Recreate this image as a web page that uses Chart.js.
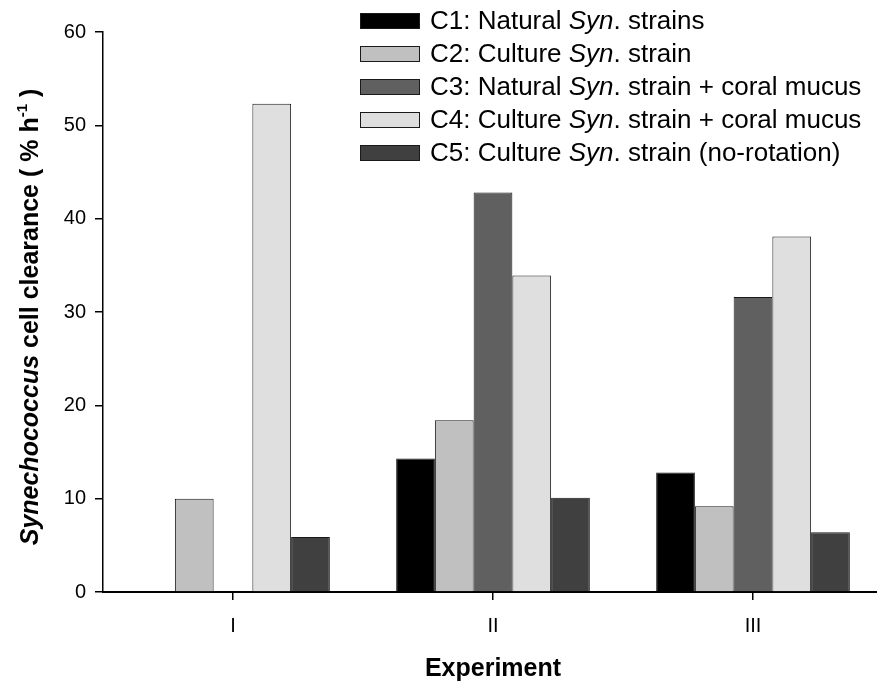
<!DOCTYPE html>
<html>
<head>
<meta charset="utf-8">
<script src="https://cdn.jsdelivr.net/npm/chart.js@4.4.1/dist/chart.umd.min.js"></script>
<style>
  html, body { margin: 0; padding: 0; background: #fff; overflow: hidden; }
  #wrap { width: 884px; height: 684px; }
</style>
</head>
<body>
<div id="wrap"><canvas id="clearance"></canvas></div>
<script>
// Synechococcus cell clearance (% per hour) for the three experiments
const experiments = ['I', 'II', 'III'];
const c1Natural = [null, 14.3, 12.8];
const c2Culture = [10.0, 18.4, 9.2];
const c3NaturalMucus = [null, 42.8, 31.6];
const c4CultureMucus = [52.3, 33.9, 38.1];
const c5NoRotation = [5.9, 10.1, 6.4];
const yTicks = [0, 10, 20, 30, 40, 50, 60];

// legend entries: [before, italic, after]
const legendParts = [
  ['C1: Natural ', 'Syn', '. strains'],
  ['C2: Culture ', 'Syn', '. strain'],
  ['C3: Natural ', 'Syn', '. strain + coral mucus'],
  ['C4: Culture ', 'Syn', '. strain + coral mucus'],
  ['C5: Culture ', 'Syn', '. strain (no-rotation)']
];

const FONT = "'Liberation Sans', Arial, sans-serif";
Chart.defaults.font.family = FONT;
Chart.defaults.color = '#000';

function barSet (label, data, color) {
  return {
    label: label,
    data: data,
    backgroundColor: color,
    borderColor: '#1a1a1a',
    borderWidth: 1,
    borderSkipped: 'bottom',
    barPercentage: 1.0,
    categoryPercentage: 0.745
  };
}

// draws runs of text with different fonts one after another
function drawRuns (ctx, runs, x, y) {
  runs.forEach(r => {
    ctx.font = r.font;
    ctx.fillText(r.text, x, y + (r.dy || 0));
    x += ctx.measureText(r.text).width;
  });
}
function runsWidth (ctx, runs) {
  let w = 0;
  runs.forEach(r => { ctx.font = r.font; w += ctx.measureText(r.text).width; });
  return w;
}

const legendPlugin = {
  id: 'richLegend',
  afterDraw (chart) {
    const ctx = chart.ctx;
    ctx.save();
    ctx.textBaseline = 'middle';
    chart.data.datasets.forEach((ds, i) => {
      const cy = 21 + i * 33;
      ctx.fillStyle = ds.backgroundColor;
      ctx.fillRect(360, cy - 8, 60, 16);
      ctx.strokeStyle = '#1a1a1a';
      ctx.lineWidth = 1;
      ctx.strokeRect(360.5, cy - 7.5, 59, 15);
      ctx.fillStyle = '#000';
      const p = legendParts[i];
      drawRuns(ctx, [
        { text: p[0], font: '26px ' + FONT },
        { text: p[1], font: 'italic 26px ' + FONT },
        { text: p[2], font: '26px ' + FONT }
      ], 430, cy + 1);
    });
    ctx.restore();
  }
};

const yTitlePlugin = {
  id: 'yTitle',
  afterDraw (chart) {
    const ctx = chart.ctx;
    const area = chart.chartArea;
    const runs = [
      { text: 'Synechococcus', font: 'italic bold 25px ' + FONT },
      { text: ' cell clearance ( % h', font: 'bold 25px ' + FONT },
      { text: '-1', font: 'bold 15px ' + FONT, dy: -8 },
      { text: ' )', font: 'bold 25px ' + FONT }
    ];
    ctx.save();
    ctx.translate(31, (area.top + area.bottom) / 2 + 5);
    ctx.rotate(-Math.PI / 2);
    ctx.textBaseline = 'middle';
    ctx.fillStyle = '#000';
    drawRuns(ctx, runs, -runsWidth(ctx, runs) / 2, 0);
    ctx.restore();
  }
};

new Chart(document.getElementById('clearance'), {
  type: 'bar',
  data: {
    labels: experiments,
    datasets: [
      barSet('C1', c1Natural, '#000000'),
      barSet('C2', c2Culture, '#c0c0c0'),
      barSet('C3', c3NaturalMucus, '#606060'),
      barSet('C4', c4CultureMucus, '#dfdfdf'),
      barSet('C5', c5NoRotation, '#404040')
    ]
  },
  options: {
    responsive: true,
    maintainAspectRatio: false,
    animation: false,
    layout: { padding: { top: 32, right: 1, left: 0, bottom: 0 } },
    plugins: {
      legend: { display: false },
      tooltip: { enabled: false }
    },
    scales: {
      x: {
        grid: {
          offset: false,
          drawOnChartArea: false,
          drawTicks: true,
          tickLength: 8,
          color: '#000',
          lineWidth: 1.5
        },
        border: { color: '#000', width: 2 },
        ticks: { font: { size: 20 }, padding: 14, color: '#000' },
        title: {
          display: true,
          text: 'Experiment',
          font: { size: 25, weight: 'bold' },
          padding: { top: 0, bottom: 0 }
        },
        afterFit (scale) { scale.height = 92; }
      },
      y: {
        min: 0,
        max: 60,
        afterBuildTicks (scale) { scale.ticks = yTicks.map(v => ({ value: v })); },
        grid: {
          drawOnChartArea: false,
          drawTicks: true,
          tickLength: 8,
          color: '#000',
          lineWidth: 1.5
        },
        border: { color: '#000', width: 1.5 },
        ticks: { font: { size: 20 }, padding: 9, color: '#000' },
        afterFit (scale) { scale.width = 103; }
      }
    }
  },
  plugins: [legendPlugin, yTitlePlugin]
});
</script>
</body>
</html>
